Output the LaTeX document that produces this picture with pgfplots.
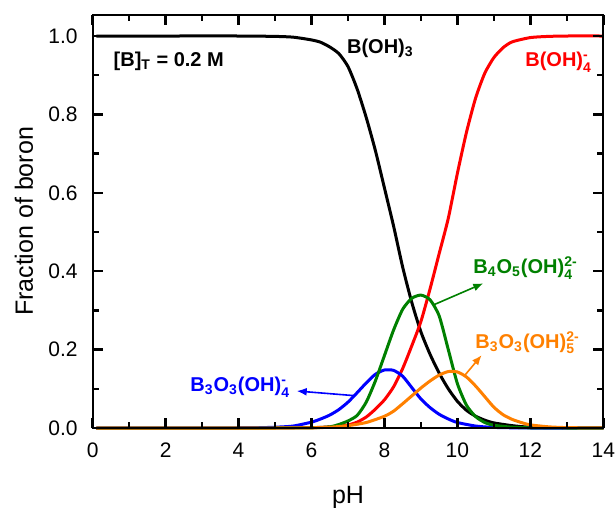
\documentclass[border=0pt]{standalone}
\usepackage{fontspec}
\setmainfont{Liberation Sans}
\usepackage{amsmath}
\usepackage{pgfplots}
\pgfplotsset{compat=1.18}
\usetikzlibrary{arrows.meta}

\definecolor{cgreen}{RGB}{0,128,0}
\definecolor{corange}{RGB}{255,128,0}
\definecolor{cblue}{RGB}{0,0,255}
\definecolor{cred}{RGB}{255,0,0}
% subscript, and stacked sub/superscript, in the text font
\newcommand{\lo}[1]{$_{\text{#1}}$}
\newcommand{\losup}[2]{$^{\text{#2}}_{\text{#1}}$}
\tikzset{lbl/.style={font=\bfseries\fontsize{10}{12}\selectfont, inner sep=0pt, anchor=base west}}

\begin{document}
\begin{tikzpicture}
\begin{axis}[
    scale only axis,
    width=255.3pt, height=206.5pt,
    xmin=0, xmax=14, ymin=0, ymax=1.0536,
    xtick={0,2,4,6,8,10,12,14},
    ytick={0,0.2,0.4,0.6,0.8,1.0},
    minor xtick={1,3,5,7,9,11,13},
    minor ytick={0.1,0.3,0.5,0.7,0.9},
    tick align=inside,
    xtick pos=both, ytick pos=both,
    major tick length=5pt, minor tick length=3pt,
    axis line style={line width=1.1pt},
    tick style={draw=black, line width=1.2pt},
    axis on top,
    tick label style={font=\fontsize{10.5}{12}\selectfont,
        /pgf/number format/assume math mode=true},
    yticklabel style={/pgf/number format/fixed, /pgf/number format/fixed zerofill,
        /pgf/number format/precision=1, xshift=-4pt},
    xticklabel style={yshift=-4pt},
    xlabel={pH}, ylabel={Fraction of boron},
    label style={font=\fontsize{12.5}{15}\selectfont},
    xlabel style={at={(axis description cs:0.5,-0.1816)}, anchor=base},
    ylabel style={at={(axis description cs:-0.1345,0.5)}, anchor=center},
    clip=false,
    every axis plot/.append style={line width=1.5pt},
]
% B(OH)3
\addplot[black, smooth, tension=0.4] coordinates {
    (0.1,1.000) (2,1.000) (4,1.000) (5,0.999) (5.5,0.997) (6.0,0.990)
    (6.25,0.984) (6.5,0.972) (6.75,0.955) (7.0,0.922) (7.25,0.865)
    (7.5,0.792) (7.75,0.708) (8.0,0.612) (8.25,0.515) (8.5,0.410)
    (8.75,0.320) (9.0,0.245) (9.25,0.188) (9.5,0.140) (9.75,0.100)
    (10.0,0.068) (10.25,0.045) (10.5,0.030) (10.75,0.020) (11.0,0.013)
    (11.5,0.006) (12.0,0.002) (13.0,0.0005) (14.0,0.0)
};
% B(OH)4-
\addplot[cred, smooth, tension=0.4] coordinates {
    (0.1,0.0) (4,0.0) (6.0,0.001) (6.5,0.003) (7.0,0.008) (7.25,0.015)
    (7.5,0.028) (7.75,0.048) (8.0,0.072) (8.25,0.105) (8.5,0.152)
    (8.75,0.210) (9.0,0.272) (9.25,0.355) (9.5,0.445) (9.75,0.535)
    (10.0,0.650) (10.25,0.755) (10.5,0.842) (10.75,0.905) (11.0,0.945)
    (11.25,0.970) (11.5,0.985) (12.0,0.996) (12.5,0.999) (13.0,1.0) (14.0,1.0)
};
% B3O3(OH)4-
\addplot[cblue, smooth, tension=0.4] coordinates {
    (0.1,0.0) (4.0,0.0) (4.5,0.0005) (5.0,0.002) (5.5,0.005) (6.0,0.015)
    (6.25,0.023) (6.5,0.033) (6.75,0.047) (7.0,0.066) (7.25,0.090)
    (7.5,0.115) (7.75,0.137) (8.0,0.148) (8.25,0.147) (8.5,0.132)
    (8.75,0.103) (9.0,0.074) (9.25,0.052) (9.5,0.035) (9.75,0.023)
    (10.0,0.014) (10.5,0.005) (11.0,0.0015) (12.0,0.0) (14.0,0.0)
};
% B4O5(OH)4 2-
\addplot[cgreen, smooth, tension=0.4] coordinates {
    (0.1,0.0) (5.0,0.0) (6.0,0.0005) (6.5,0.003) (6.75,0.009) (7.0,0.018)
    (7.25,0.032) (7.5,0.066) (7.75,0.120) (8.0,0.185) (8.25,0.250)
    (8.5,0.303) (8.75,0.331) (9.0,0.339) (9.25,0.327) (9.5,0.286)
    (9.75,0.200) (10.0,0.113) (10.25,0.058) (10.5,0.029) (10.75,0.014)
    (11.0,0.007) (11.5,0.002) (12.0,0.0005) (13.0,0.0) (14.0,0.0)
};
% B3O3(OH)5 2-
\addplot[corange, smooth, tension=0.4] coordinates {
    (0.1,0.0) (5.0,0.0) (6.0,0.0005) (6.5,0.002) (7.0,0.006) (7.5,0.014)
    (8.0,0.030) (8.25,0.043) (8.5,0.062) (8.75,0.082) (9.0,0.102)
    (9.25,0.120) (9.5,0.135) (9.75,0.144) (10.0,0.143) (10.25,0.130)
    (10.5,0.107) (10.75,0.080) (11.0,0.053) (11.25,0.034) (11.5,0.022)
    (11.75,0.014) (12.0,0.008) (12.5,0.003) (13.0,0.001) (14.0,0.0)
};

\node[lbl] at (axis cs:0.565,0.9217) {[B]\lo{T} = 0.2 M};
\node[lbl] at (axis cs:6.965,0.956) {B(OH)\lo{3}};
\node[lbl, text=cred] at (axis cs:11.853,0.9217) {B(OH)\losup{4}{-}};
\node[lbl, text=cblue] at (axis cs:2.668,0.0926) {B\lo{3}O\lo{3}(OH)\losup{4}{-}};
\node[lbl, text=cgreen] at (axis cs:10.428,0.393) {B\lo{4}O\lo{5}(OH)\losup{4}{2-}};
\node[lbl, text=corange] at (axis cs:10.483,0.2033) {B\lo{3}O\lo{3}(OH)\losup{5}{2-}};

\draw[cblue, line width=0.8pt, -{Latex[length=5pt,width=4pt]}]
    (axis cs:7.19,0.0824) -- (axis cs:5.594,0.0944);
\draw[cgreen, line width=0.8pt, -{Latex[length=5pt,width=4pt]}]
    (axis cs:9.339,0.3138) -- (axis cs:10.71,0.369);
\draw[corange, line width=0.8pt, -{Latex[length=5pt,width=4pt]}]
    (axis cs:10.208,0.135) -- (axis cs:10.666,0.186);
\end{axis}
\pgfresetboundingbox
\path ([xshift=-46.35pt,yshift=-40pt]current axis.south west) rectangle ++(307.5pt,254pt);
\end{tikzpicture}
\end{document}
